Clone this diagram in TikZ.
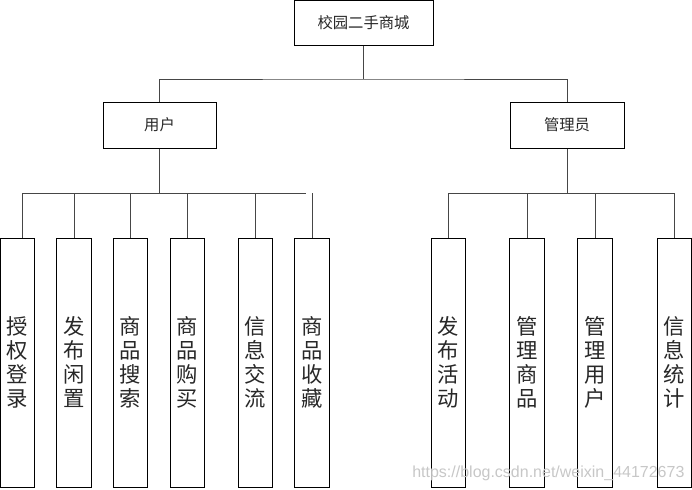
\documentclass[tikz,border=0pt]{standalone}
\usepackage{fontspec}
\newfontfamily\cjk{Noto Sans CJK SC}
\newfontfamily\wmfont{Liberation Sans}
\definecolor{txt}{RGB}{40,40,40}
\definecolor{ln}{RGB}{70,70,70}
\begin{document}
\begin{tikzpicture}[x=0.75pt,y=-0.75pt,
  box/.style={draw=black, line width=0.75pt, inner sep=0pt, text=txt, fill=white},
  hbox/.style={box, minimum height=34.5pt, font=\cjk\fontsize{11.5}{13}\selectfont},
  vbox/.style={box, minimum width=25.9pt, minimum height=186.75pt, align=center,
    font=\cjk\fontsize{16}{18}\selectfont},
  conn/.style={draw=ln, line width=0.75pt}]
\useasboundingbox (0,0) rectangle (692,489);
% top
\node[hbox, minimum width=104.25pt, minimum height=33.75pt] (top) at (363.5,23) {校园二手商城};
\node[hbox, minimum width=84.75pt] (user) at (159.5,125) {用户};
\node[hbox, minimum width=85.5pt] (admin) at (567,125) {管理员};
\coordinate (busT) at (363.5,79);
\draw[conn] (top.south) -- (busT);
\draw[conn] (user.north) |- (busT) -| (admin.north);
% leaves
\foreach \n/\x/\t in {b1/17.6/授\\权\\登\\录, b2/74.25/发\\布\\闲\\置, b3/130.6/商\\品\\搜\\索,
  b4/187.5/商\\品\\购\\买, b5/255.3/信\\息\\交\\流, b6/312/商\\品\\收\\藏,
  b7/448.3/发\\布\\活\\动, b8/527.2/管\\理\\商\\品, b9/595.2/管\\理\\用\\户, b10/674.3/信\\息\\统\\计}
  {\node[vbox] (\n) at (\x,362.5) {\t};}
% drop points
\foreach \n/\x in {1/22.7,2/74.25,3/130.6,4/187.5,5/255.3,6/312,7/448.3,8/527.2,9/595.2,10/674.3}
  {\coordinate (d\n) at (\x,193);}
\coordinate (e1) at (306,193);
\coordinate (ubus) at (159.5,193);
\coordinate (abus) at (567,193);
\draw[conn] (user.south) -- (ubus);
\draw[conn] (admin.south) -- (abus);
\draw[conn] (d1) -- (e1);
\draw[conn] (d7) -- (d10);
\foreach \i in {1,...,10}
  {\draw[conn] (d\i) -- (d\i |- b\i.north);}
% watermark
\node[anchor=base west, inner sep=0pt, text=black!22, font=\wmfont\fontsize{12}{14}\selectfont] (wm) at (412,477) {https://blog.csdn.net/weixin\_44172673};
\end{tikzpicture}
\end{document}
